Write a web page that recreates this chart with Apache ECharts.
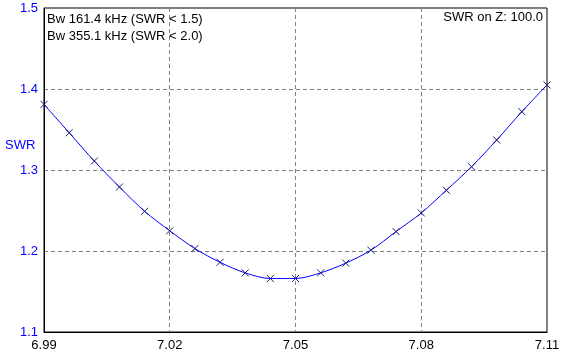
<!DOCTYPE html>
<html>
<head>
<meta charset="utf-8">
<script src="https://cdn.jsdelivr.net/npm/echarts@6/dist/echarts.min.js"></script>
<style>
  html, body { margin: 0; padding: 0; background: #fff; }
  #chart { width: 564px; height: 361px; }
</style>
</head>
<body>
<div id="chart"></div>
<script>
// frequency (MHz) of each marker
var freqs = [6.990, 6.996, 7.002, 7.008, 7.014, 7.020, 7.026, 7.032, 7.038, 7.044, 7.050,
  7.056, 7.062, 7.068, 7.074, 7.080, 7.086, 7.092, 7.098, 7.104, 7.110]
// SWR
var swr = [1.381, 1.346, 1.311, 1.279, 1.249, 1.225, 1.203, 1.186, 1.173, 1.166, 1.166,
  1.173, 1.185, 1.201, 1.224, 1.247, 1.275, 1.304, 1.337, 1.372, 1.405]
var infoLeft = ['Bw 161.4 kHz (SWR < 1.5)', 'Bw 355.1 kHz (SWR < 2.0)']
var infoRight = 'SWR on Z: 100.0'
var yName = 'SWR'

var font = 'Arial, "Liberation Sans", sans-serif'
var chart = echarts.init(document.getElementById('chart'))

var points = freqs.map(function(f, i) { return [f, swr[i]] })

chart.setOption({
  animation: false,
  grid: {
    left: 44, right: 17, top: 8, bottom: 29,
    outerBoundsMode: 'none',
    containLabel: false,
    show: true,
    borderColor: '#000',
    borderWidth: 1
  },
  xAxis: {
    type: 'value',
    min: 6.99,
    max: 7.11,
    interval: 0.03,
    axisLine: { show: true, lineStyle: { color: '#000' } },
    axisTick: { show: false },
    axisLabel: {
      color: '#000',
      fontFamily: font,
      fontSize: 13,
      margin: 7,
      formatter: function(v) { return v.toFixed(2) }
    },
    splitLine: {
      show: true,
      lineStyle: { color: '#808080', type: [4, 3], width: 1 }
    }
  },
  yAxis: {
    type: 'value',
    min: 1.1,
    max: 1.5,
    interval: 0.1,
    axisLine: { show: true, lineStyle: { color: '#000' } },
    axisTick: { show: false },
    axisLabel: {
      color: '#0000ff',
      fontFamily: font,
      fontSize: 13,
      margin: 6,
      formatter: function(v) { return v.toFixed(1) }
    },
    splitLine: {
      show: true,
      lineStyle: { color: '#808080', type: [4, 3], width: 1 }
    }
  },
  graphic: [
    {
      type: 'text', left: 5, top: 139,
      style: { text: yName, fill: '#0000ff', font: '13px ' + font }
    },
    {
      type: 'text', left: 47, top: 11,
      style: { text: infoLeft.join('\n'), fill: '#000', font: '13px ' + font, lineHeight: 17 }
    },
    {
      type: 'text', right: 21, top: 11,
      style: { text: infoRight, fill: '#000', font: '13px ' + font }
    }
  ],
  series: [{
    type: 'line',
    data: points,
    smooth: 0.3,
    symbol: 'path://M0,0L10,10M10,0L0,10',
    symbolSize: 7,
    showAllSymbol: true,
    lineStyle: { color: '#0000ff', width: 1 },
    itemStyle: { color: 'transparent', borderColor: '#1a1a80', borderWidth: 1 }
  }]
})
</script>
</body>
</html>
